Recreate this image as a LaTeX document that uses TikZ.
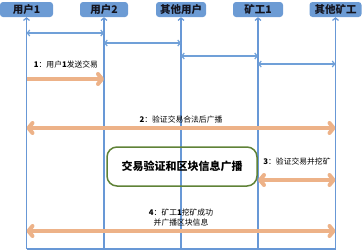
\documentclass[tikz,border=0pt]{standalone}
\usepackage{fontspec}
\setmainfont{Noto Sans CJK SC}
\usetikzlibrary{arrows.meta}
\definecolor{headblue}{RGB}{108,155,212}
\definecolor{lifeblue}{RGB}{104,152,214}
\definecolor{linkblue}{RGB}{112,160,216}
\definecolor{floworange}{RGB}{237,178,136}
\definecolor{boxgreen}{RGB}{95,130,55}
\definecolor{headtext}{RGB}{20,20,30}
\begin{document}
\begin{tikzpicture}[x=1pt,y=-1pt,
  head/.style={rectangle, rounded corners=3pt, fill=headblue, text=headtext, minimum width=50pt,
    minimum height=15pt, inner sep=0pt, font=\bfseries\fontsize{10.5}{12}\selectfont},
  life/.style={draw=lifeblue, line width=1.5pt,
    -{Straight Barb[length=2.5pt,width=6pt,line width=1.2pt]}},
  link/.style={draw=linkblue, line width=1.3pt,
    {Straight Barb[length=2.5pt,width=6pt,line width=1.2pt]}-{Straight Barb[length=2.5pt,width=6pt,line width=1.2pt]}},
  flow/.style={draw=floworange, line width=4pt,
    -{Straight Barb[length=4pt,width=10pt,round]}},
  flow2/.style={draw=floworange, line width=4pt,
    {Straight Barb[length=4pt,width=10pt,round]}-{Straight Barb[length=4pt,width=10pt,round]}},
  lbl/.style={font=\fontsize{7.8}{10}\selectfont, inner sep=0pt, align=center}
]
\useasboundingbox (0,0) rectangle (364,250);

% participants
\node[head, minimum width=53pt] (u1) at (26.5,9.5) {用户1};
\node[head, minimum width=48pt] (u2) at (104,9.5) {用户2};
\node[head] (ou) at (181,9.5) {其他用户};
\node[head] (m1) at (258,9.5) {矿工1};
\node[head, minimum width=52pt] (om) at (335.5,9.5) {其他矿工};

% row levels
\coordinate (base) at (0,249);
\coordinate (r1) at (0,33);
\coordinate (r2) at (0,43);
\coordinate (r3) at (0,56);
\coordinate (r4) at (0,64);
\coordinate (s1) at (0,79);
\coordinate (s2) at (0,128);
\coordinate (s3) at (0,180);
\coordinate (s4) at (0,231);

% lifelines
\foreach \n in {u1,u2,ou,m1,om}
  \draw[life] (\n |- base) -- (\n.south);
\draw[draw=lifeblue, line width=1.5pt] (u1 |- base) -- (om |- base);

% peer links
\draw[link] (u1 |- r1) -- (u2 |- r1);
\draw[link] (u2 |- r2) -- (ou |- r2);
\draw[link] (ou |- r3) -- (m1 |- r3);
\draw[link] (m1 |- r4) -- (om |- r4);

% central process
\node[draw=boxgreen, line width=1.5pt, rounded corners=10pt, minimum width=150pt,
  minimum height=39pt, font=\bfseries\fontsize{11}{13}\selectfont] (core) at (182,166.5)
  {交易验证和区块信息广播};

% message flows
\draw[flow] (u1 |- s1) -- (u2 |- s1);
\draw[flow2] (u1 |- s2) -- (om |- s2);
\draw[flow2] (m1 |- s3) -- (om |- s3);
\draw[flow2] (u1 |- s4) -- (om |- s4);

% flow labels
\node[lbl] (t1) at (66,65) {\textbf{1}：用户\textbf{1}发送交易};
\node[lbl] (t2) at (181,120) {\textbf{2}：验证交易合法后广播};
\node[lbl] (t3) at (297,162) {\textbf{3}：验证交易并挖矿};
\node[lbl] (t4) at (181,218) {\textbf{4}：矿工\textbf{1}挖矿成功\\并广播区块信息};
\end{tikzpicture}
\end{document}
